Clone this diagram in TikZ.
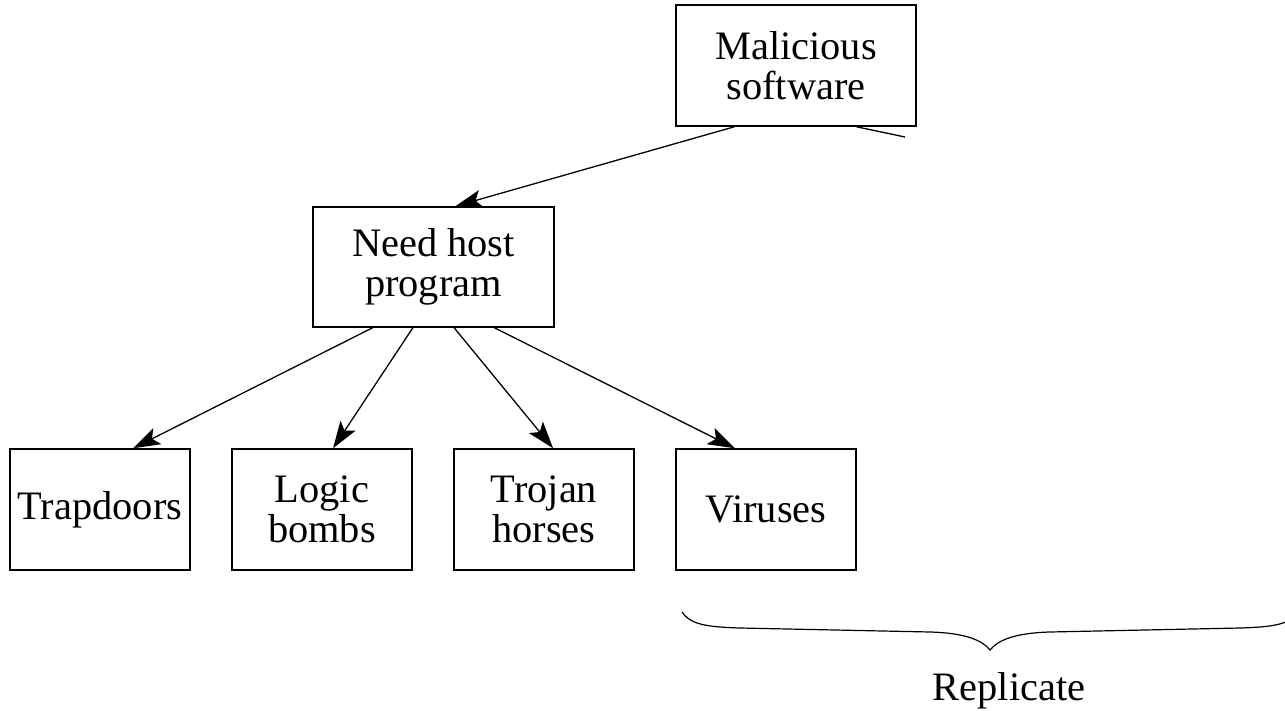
\documentclass[tikz,border=0pt]{standalone}
\usepackage{fontspec}
\setmainfont{Liberation Serif}
\usetikzlibrary{arrows.meta,calc}
\tikzset{
  box/.style={draw, line width=0.75pt, inner sep=0pt, align=center,
    font=\fontsize{20.2}{20}\selectfont, minimum width=90pt, minimum height=60.5pt},
  arr/.style={line width=0.65pt, -{Stealth[length=13.5pt,width=9pt,inset=3pt]}},
  plain/.style={line width=0.65pt},
  lbl/.style={font=\fontsize{20.2}{20}\selectfont, inner sep=0pt}
}
\begin{document}
\begin{tikzpicture}[x=0.5pt,y=-0.5pt]
\path[use as bounding box] (0,0) rectangle (1285,711);
\clip (0,0) rectangle (1285,711);
\node[box, minimum width=120pt] (mal) at (796,65.5) {Malicious\\software};
\node[box, minimum width=120.5pt, minimum height=60pt] (host) at (433.5,267) {Need host\\program};
\node[box] (trap) at (100,509.5) {Trapdoors};
\node[box] (logic) at (322,509.5) {Logic\\bombs};
\node[box] (troj) at (544,509.5) {Trojan\\horses};
\node[box] (vir) at (766,509.5) {Viruses};
\coordinate (cut) at (905,137);
\draw[arr] ($(mal.south west)!0.245!(mal.south east)$) -- ($(host.north west)!0.59!(host.north east)$);
\draw[plain] ($(mal.south west)!0.75!(mal.south east)$) -- (cut);
\draw[arr] ($(host.south west)!0.249!(host.south east)$) -- ($(trap.north west)!0.683!(trap.north east)$);
\draw[arr] ($(host.south west)!0.415!(host.south east)$) -- ($(logic.north west)!0.561!(logic.north east)$);
\draw[arr] ($(host.south west)!0.585!(host.south east)$) -- ($(troj.north west)!0.55!(troj.north east)$);
\draw[arr] ($(host.south west)!0.751!(host.south east)$) -- ($(vir.north west)!0.328!(vir.north east)$);
\draw[line width=0.6pt] (682,612) .. controls (690,624) and (705,627) .. (740,628)
  -- (930,632) .. controls (965,633) and (982,640) .. (990,650)
  .. controls (998,640) and (1015,633) .. (1050,632)
  -- (1240,628) .. controls (1275,627) and (1290,624) .. (1298,612);
\node[lbl, anchor=base] (rep) at (1009,700) {Replicate};
\end{tikzpicture}
\end{document}
